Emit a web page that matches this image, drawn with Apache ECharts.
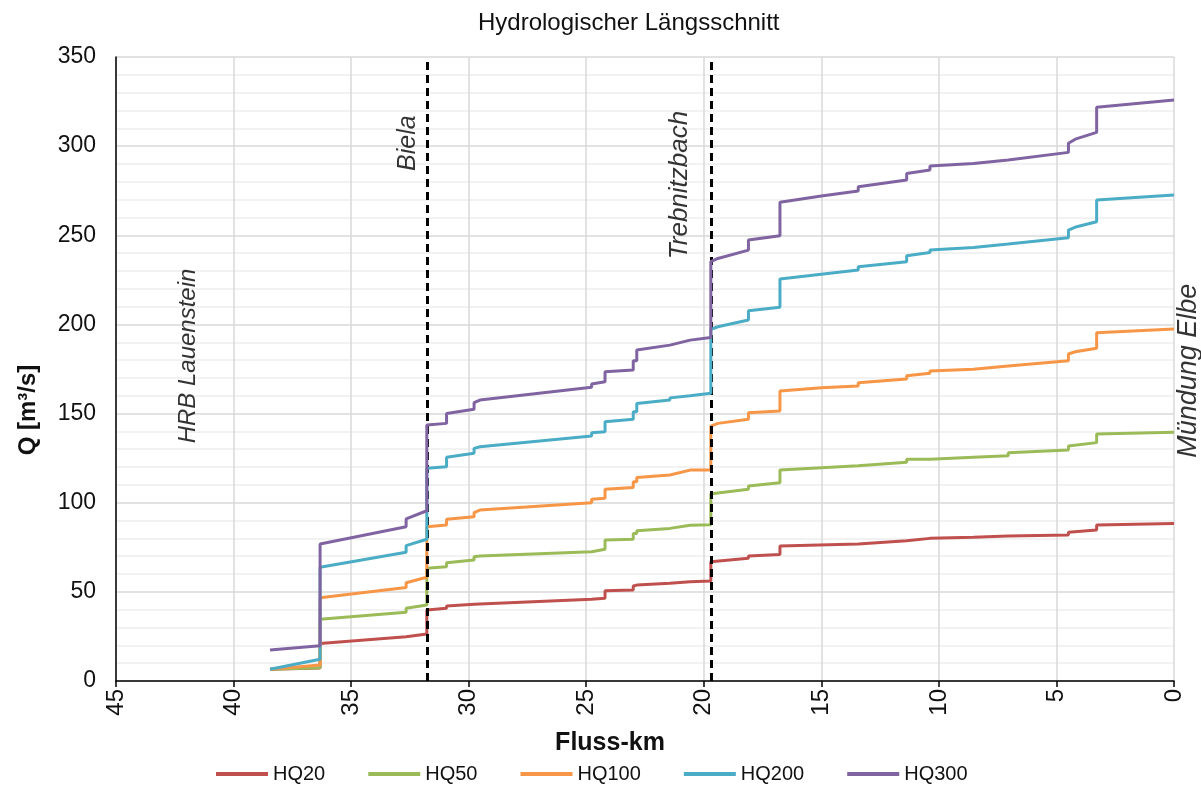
<!DOCTYPE html>
<html>
<head>
<meta charset="utf-8">
<script src="https://cdn.jsdelivr.net/npm/echarts@6/dist/echarts.min.js"></script>
<style>html,body{margin:0;padding:0;background:#fff}#c{width:1201px;height:789px}</style>
</head>
<body>
<div id="c"></div>
<script>
// ---- data (Fluss-km, Q in m³/s) ----
const seriesNames = ['HQ20', 'HQ50', 'HQ100', 'HQ200', 'HQ300'];

const kmHQ20 = [38.45,36.32,36.32,32.66,32.66,31.78,31.78,30.94,30.94,29.77,29.77,24.77,24.77,24.2,24.2,23.0,23.0,22.85,21.44,21.44,20.58,19.7,19.7,18.1,18.1,16.76,16.76,13.43,13.43,11.37,11.37,10.38,8.53,7.05,4.49,4.49,3.29,3.29,0];
const qHQ20  = [6.6,7.3,21.1,24.8,25.8,26.4,39.8,40.8,42.1,43.0,43.9,45.8,46.4,46.4,50.6,51.0,53.3,53.8,54.8,55.3,55.7,56.1,66.9,68.8,70.1,71.0,75.7,76.8,77.4,78.7,79.5,80.0,80.6,81.3,81.9,83.4,84.7,87.5,88.4];

const kmHQ50 = [38.45,36.32,36.32,32.66,32.66,31.78,31.78,30.94,30.94,29.77,29.77,29.52,24.77,24.77,24.2,24.2,23.0,23.0,22.85,22.85,21.44,21.44,20.58,19.7,19.7,19.4,18.1,18.1,16.76,16.76,13.43,13.43,11.37,11.37,10.38,10.38,8.53,8.53,7.05,7.05,4.49,4.49,3.29,3.29,0];
const qHQ50  = [6.6,7.5,34.6,38.5,40.8,42.6,63.2,64.1,66.3,67.9,69.7,70.1,72.5,73.5,73.9,79.1,79.5,82.8,82.8,84.3,85.6,86.3,87.3,87.7,104.9,105.5,107.5,109.4,111.2,118.3,120.8,121.5,122.7,124.4,124.4,125.5,125.5,126.4,126.4,128.0,129.6,131.8,133.7,138.5,139.5];

const kmHQ100 = [38.45,36.32,36.32,32.66,32.66,31.78,31.78,30.94,30.94,29.77,29.77,29.52,24.77,24.77,24.2,24.2,23.0,23.0,22.85,22.85,21.44,21.44,20.58,19.7,19.7,19.4,18.1,18.1,16.76,16.76,15.0,13.43,13.43,11.37,11.37,10.38,10.38,8.53,8.53,7.05,7.05,4.49,4.49,4.2,3.29,3.29,0];
const qHQ100  = [6.6,9.0,46.7,52.5,55.1,58.2,86.5,87.5,90.7,92.1,94.4,95.9,100.0,101.9,102.5,107.5,108.6,111.8,111.8,114.2,115.5,116.5,118.3,118.3,143.0,144.5,146.8,150.5,151.4,162.6,164.5,165.5,167.3,169.4,171.2,172.6,173.9,174.8,175.7,176.7,177.8,179.6,183.4,184.7,186.6,195.3,197.4];

const kmHQ200 = [38.45,36.32,36.32,32.66,32.66,31.78,31.78,30.94,30.94,29.77,29.77,29.52,24.77,24.77,24.2,24.2,23.0,23.0,22.85,22.85,21.44,21.44,20.58,19.7,19.7,19.4,18.1,18.1,16.76,16.76,13.43,13.43,11.37,11.37,10.38,10.38,8.53,8.53,7.05,7.05,4.49,4.49,4.14,3.29,3.29,0];
const qHQ200  = [6.6,12.2,63.8,72.2,75.9,79.5,119.3,120.2,125.5,127.7,130.5,131.4,137.4,139.3,139.8,145.4,146.8,151.0,151.0,155.7,157.6,158.8,160.0,161.4,197.2,198.7,202.5,207.7,209.6,225.5,230.5,232.4,235.2,238.5,240.4,241.7,243.2,244.0,245.1,246.0,248.6,252.9,254.8,257.6,269.8,272.6];

const kmHQ300 = [38.45,36.32,36.32,32.66,32.66,31.78,31.78,30.94,30.94,29.77,29.77,29.52,24.77,24.77,24.2,24.2,23.0,23.0,22.85,22.85,21.44,21.44,20.58,19.7,19.7,19.4,18.1,18.1,16.76,16.76,15.0,13.43,13.43,11.37,11.37,10.38,10.38,8.53,8.53,7.05,7.05,4.49,4.49,4.2,3.29,3.29,0];
const qHQ300  = [17.4,19.8,76.8,86.5,90.9,95.5,143.6,144.5,150.1,152.4,156.1,157.6,164.7,166.6,167.9,173.5,174.4,179.6,179.6,185.6,188.4,189.5,191.2,192.7,235.2,237.0,241.7,247.3,249.8,268.5,272.0,274.8,277.2,281.0,284.7,286.6,288.8,290.3,291.3,292.2,293.2,296.5,301.6,303.9,307.7,321.8,325.9];

const colors = ['#c0504d', '#9bbb59', '#f79646', '#4bacc6', '#8064a2'];

// tributary confluences (dashed lines)
const tributaryKm = [31.78, 19.7];

// annotation texts and their anchor (km, Q)
const annoText = ['HRB Lauenstein', 'Biela', 'Trebnitzbach', 'Mündung Elbe'];
const annoKm   = [41.94, 32.58, 21.01, -0.6];
const annoQ    = [182.3, 301.7, 278.2, 174.0];
const annoSize = [24, 25, 26, 27];

const xTicks = {min: 0, max: 45, interval: 5};
const yTicks = {min: 0, max: 350, interval: 50};

// ---- build ----
const kms = [kmHQ20, kmHQ50, kmHQ100, kmHQ200, kmHQ300];
const qs  = [qHQ20, qHQ50, qHQ100, qHQ200, qHQ300];
const FONT = 'Liberation Sans, Arial, sans-serif';
const TXT = '#111';

const lineSeries = seriesNames.map((n, i) => ({
  name: n,
  type: 'line',
  data: kms[i].map((k, j) => [k, qs[i][j]]),
  showSymbol: false,
  symbol: 'none',
  lineStyle: {width: 3, color: colors[i]},
  itemStyle: {color: colors[i]},
  z: 2 + i,
  animation: false
}));

const annoSeries = {
  name: 'anno',
  type: 'scatter',
  clip: false,
  z: 20,
  symbolSize: 0,
  silent: true,
  data: annoText.map((t, i) => ({value: [annoKm[i], annoQ[i]], name: t, label: {fontSize: annoSize[i]}})),
  label: {
    show: true,
    formatter: p => p.name,
    position: 'inside',
    rotate: 90,
    fontFamily: FONT,
    fontStyle: 'italic',
    fontSize: 25,
    color: '#000'
  },
  markLine: {
    silent: true,
    symbol: ['none', 'none'],
    label: {show: false},
    lineStyle: {color: '#000', width: 3, type: [8, 5]},
    data: tributaryKm.map(k => ({xAxis: k}))
  },
  animation: false
};

const chart = echarts.init(document.getElementById('c'), null, {renderer: 'canvas'});
chart.setOption({
  backgroundColor: '#fff',
  animation: false,
  color: colors,
  title: {
    text: 'Hydrologischer Längsschnitt',
    left: 473,
    top: 6,
    textStyle: {fontFamily: FONT, fontSize: 24, fontWeight: 'normal', color: TXT}
  },
  grid: {left: 116, right: 27, top: 57, bottom: 108, containLabel: false},
  legend: {
    data: seriesNames,
    top: 764,
    left: 216,
    padding: 0,
    icon: 'rect',
    itemWidth: 52,
    itemHeight: 4,
    itemGap: 43,
    textStyle: {fontFamily: FONT, fontSize: 20, color: TXT}
  },
  xAxis: {
    type: 'value',
    inverse: true,
    min: xTicks.min, max: xTicks.max, interval: xTicks.interval,
    name: 'Fluss-km',
    nameLocation: 'middle',
    nameGap: 50,
    nameTextStyle: {fontFamily: FONT, fontSize: 25, fontWeight: 'bold', color: TXT, padding: [0, 70, 0, 0]},
    axisLine: {show: true, onZero: false, lineStyle: {color: '#000', width: 1.5}},
    axisTick: {show: true, length: 6, lineStyle: {color: '#000', width: 1.5}},
    axisLabel: {rotate: 90, fontFamily: FONT, fontSize: 24, color: TXT, margin: 8},
    splitLine: {show: true, lineStyle: {color: '#d9d9d9', width: 1.5}}
  },
  yAxis: {
    type: 'value',
    position: 'left',
    min: yTicks.min, max: yTicks.max, interval: yTicks.interval,
    name: 'Q [m³/s]',
    nameLocation: 'middle',
    nameGap: 76,
    nameTextStyle: {fontFamily: FONT, fontSize: 24, fontWeight: 'bold', color: TXT, padding: [0, 82, 0, 0]},
    axisLine: {show: true, onZero: false, lineStyle: {color: '#000', width: 1.5}},
    axisTick: {show: false},
    axisLabel: {fontFamily: FONT, fontSize: 23, color: TXT, margin: 20},
    splitLine: {show: true, lineStyle: {color: '#d9d9d9', width: 1.5}},
    minorTick: {show: false, splitNumber: 5},
    minorSplitLine: {show: true, lineStyle: {color: '#eeeeee', width: 1.5}}
  },
  series: lineSeries.concat([annoSeries])
});
</script>
</body>
</html>
